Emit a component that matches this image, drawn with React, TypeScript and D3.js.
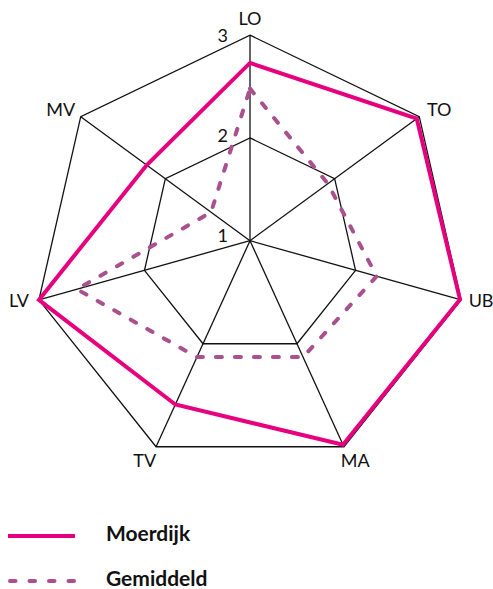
import * as React from "react";
import * as d3 from "d3";

const axes = ["LO", "TO", "UB", "MA", "TV", "LV", "MV"];
const moerdijk = [2.73, 2.97, 2.99, 2.98, 2.59, 3.0, 2.22];
const gemiddeld = [2.48, 1.92, 2.2, 2.13, 2.13, 2.64, 1.46];
const levels = [1, 2, 3];
const seriesNames = ["Moerdijk", "Gemiddeld"];

const PINK = "#e6007e";
const PURPLE = "#a9508f";
const FONT = "Lato, 'Noto Sans', sans-serif";

function drawChart(svgRef: React.RefObject<SVGSVGElement | null>) {
  const width = 493;
  const height = 589;
  // outer heptagon centre + radius, hub where the spokes meet
  const cx = 250, cy = 251.7, R = 216.5;
  const hub: [number, number] = [250, 240.7];

  const svg = d3.select(svgRef.current).attr("width", width).attr("height", height);
  svg.selectAll("*").remove();

  const angle = d3
    .scalePoint<string>()
    .domain(axes)
    .range([0, (2 * Math.PI * (axes.length - 1)) / axes.length]);
  const t = d3.scaleLinear().domain([1, 3]).range([0, 1]);

  const outer = (a: string): [number, number] => {
    const th = angle(a)!;
    return [cx + R * Math.sin(th), cy - R * Math.cos(th)];
  };
  const pt = (a: string, v: number): [number, number] =>
    d3.interpolateArray(hub, outer(a))(t(v)) as [number, number];

  const g = svg.append("g");
  const line = d3.line();

  // grid rings
  levels.filter((l) => l > 1).forEach((l) => {
    g.append("path")
      .attr("d", line(axes.map((a) => pt(a, l))) + "Z")
      .attr("fill", "none")
      .attr("stroke", "#111")
      .attr("stroke-width", 1.3);
  });

  // spokes
  g.selectAll(".spoke")
    .data(axes)
    .enter()
    .append("line")
    .attr("x1", hub[0])
    .attr("y1", hub[1])
    .attr("x2", (a) => outer(a)[0])
    .attr("y2", (a) => outer(a)[1])
    .attr("stroke", "#111")
    .attr("stroke-width", 1.3);

  // level labels
  const labelY = d3.scaleLinear().domain([1, 3]).range([242, 42]);
  g.selectAll(".lvl")
    .data(levels)
    .enter()
    .append("text")
    .attr("x", hub[0] - 22)
    .attr("y", (l) => labelY(l))
    .attr("text-anchor", "end")
    .attr("font-family", FONT)
    .attr("font-size", 18)
    .attr("fill", "#111")
    .text((l) => l);

  // axis labels
  const offX = (a: string) => {
    const s = Math.sin(angle(a)!);
    return 20 * Math.sign(s) * Math.min(1, Math.abs(s) * 1.3);
  };
  const offY = (a: string) => {
    const c = Math.cos(angle(a)!);
    return -17 * c * Math.abs(c);
  };
  g.selectAll(".axis-label")
    .data(axes)
    .enter()
    .append("text")
    .attr("x", (a) => outer(a)[0] + offX(a))
    .attr("y", (a) => outer(a)[1] + offY(a))
    .attr("dy", "0.35em")
    .attr("text-anchor", "middle")
    .attr("font-family", FONT)
    .attr("font-size", 18)
    .attr("fill", "#111")
    .text((a) => a);

  g.append("path")
    .attr("d", line(axes.map((a, i) => pt(a, gemiddeld[i]))) + "Z")
    .attr("fill", "none")
    .attr("stroke", PURPLE)
    .attr("stroke-width", 4)
    .attr("stroke-dasharray", "6 13")
    .attr("stroke-linecap", "round");

  g.append("path")
    .attr("d", line(axes.map((a, i) => pt(a, moerdijk[i]))) + "Z")
    .attr("fill", "none")
    .attr("stroke", PINK)
    .attr("stroke-width", 4)
    .attr("stroke-linejoin", "miter");

  // legend
  const ly = d3.scalePoint<string>().domain(seriesNames).range([536, 581]);
  const legend = svg.append("g");
  seriesNames.forEach((name, i) => {
    legend
      .append("line")
      .attr("x1", i === 0 ? 8 : 10)
      .attr("x2", i === 0 ? 75 : 74)
      .attr("y1", ly(name)!)
      .attr("y2", ly(name)!)
      .attr("stroke", i === 0 ? PINK : PURPLE)
      .attr("stroke-width", 4)
      .attr("stroke-dasharray", i === 0 ? null : "5.5 14")
      .attr("stroke-linecap", i === 0 ? "butt" : "round");
    legend
      .append("text")
      .attr("x", 106)
      .attr("y", ly(name)! - 2)
      .attr("dy", "0.35em")
      .attr("font-family", FONT)
      .attr("font-weight", "bold")
      .attr("font-size", 21)
      .attr("fill", "#111")
      .text(name);
  });
}

const App = () => {
  const svgRef = React.useRef<SVGSVGElement>(null);

  React.useEffect(() => {
    drawChart(svgRef);
  }, [svgRef]);

  return (
    <div id="chart" style={{ position: "absolute", left: 0, top: 0, background: "#fff" }}>
      <svg ref={svgRef} />
    </div>
  );
};

export default App;
